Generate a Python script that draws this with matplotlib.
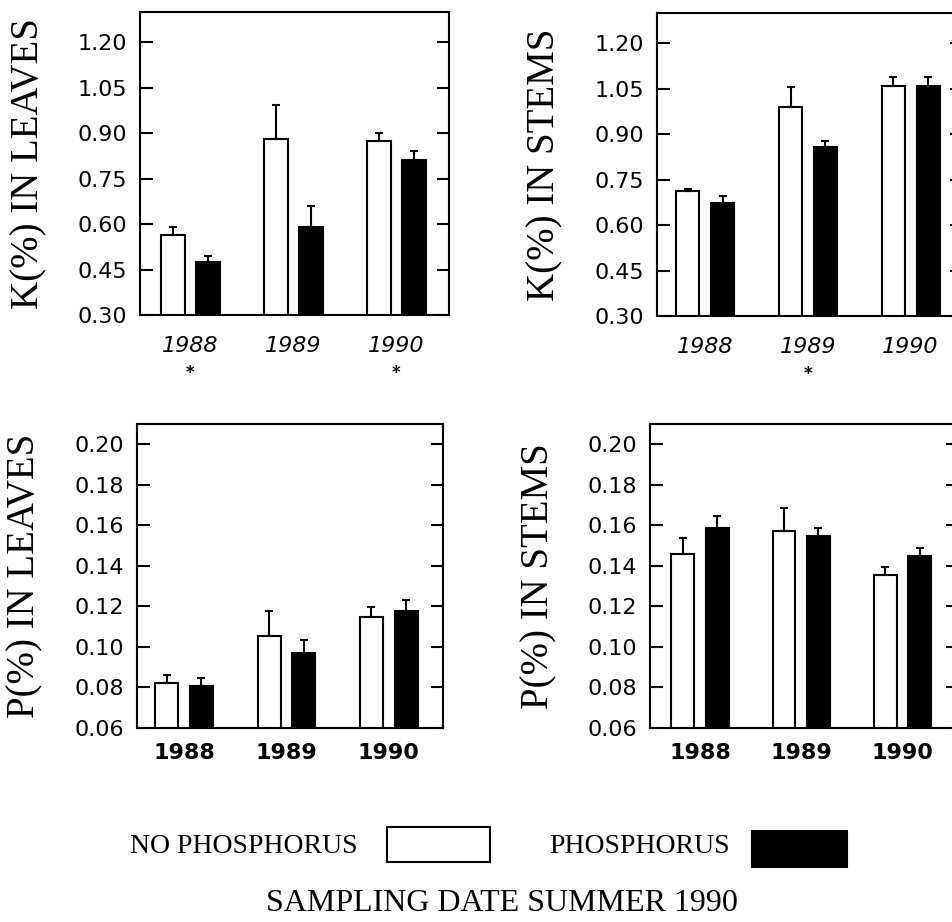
import matplotlib
matplotlib.use("Agg")
import matplotlib.pyplot as plt
from matplotlib.patches import Rectangle
import numpy as np

# ---------------- data ----------------
years = ["1988", "1989", "1990"]
series_names = ["NO PHOSPHORUS", "PHOSPHORUS"]

k_leaves_nop = [0.564, 0.880, 0.873]
k_leaves_nop_err = [0.028, 0.114, 0.029]
k_leaves_p = [0.474, 0.590, 0.812]
k_leaves_p_err = [0.021, 0.070, 0.028]

k_stems_nop = [0.713, 0.989, 1.058]
k_stems_nop_err = [0.007, 0.068, 0.032]
k_stems_p = [0.674, 0.857, 1.060]
k_stems_p_err = [0.021, 0.019, 0.030]

p_leaves_nop = [0.0820, 0.1056, 0.1150]
p_leaves_nop_err = [0.0042, 0.0121, 0.0046]
p_leaves_p = [0.0806, 0.0971, 0.1177]
p_leaves_p_err = [0.0041, 0.0061, 0.0057]

p_stems_nop = [0.1457, 0.1572, 0.1353]
p_stems_nop_err = [0.0082, 0.0115, 0.0041]
p_stems_p = [0.1588, 0.1547, 0.1448]
p_stems_p_err = [0.0058, 0.0041, 0.0042]

k_ticks = [0.30, 0.45, 0.60, 0.75, 0.90, 1.05, 1.20]
p_ticks = [0.06, 0.08, 0.10, 0.12, 0.14, 0.16, 0.18, 0.20]

# significance markers (index of year)
sig_k_leaves = [0, 2]
sig_k_stems = [1]

W, H = 953, 922
fig = plt.figure(figsize=(W / 100, H / 100), dpi=100)


def pos(x0, x1, ytop, ybot):
    return [x0 / W, 1 - ybot / H, (x1 - x0) / W, (ybot - ytop) / H]


panels = [
    dict(rect=pos(140, 449, 12, 315), xlim=(-0.49, 2.51), ylim=(0.30, 1.30),
         ticks=k_ticks, fmt="{:.2f}", a=k_leaves_nop, ae=k_leaves_nop_err,
         b=k_leaves_p, be=k_leaves_p_err, label="K(%) IN LEAVES", lx=29,
         italic=True, sig=sig_k_leaves),
    dict(rect=pos(657, 962, 13, 316), xlim=(-0.47, 2.50), ylim=(0.30, 1.30),
         ticks=k_ticks, fmt="{:.2f}", a=k_stems_nop, ae=k_stems_nop_err,
         b=k_stems_p, be=k_stems_p_err, label="K(%) IN STEMS", lx=545,
         italic=True, sig=sig_k_stems),
    dict(rect=pos(137, 443, 424, 728), xlim=(-0.46, 2.53), ylim=(0.06, 0.21),
         ticks=p_ticks, fmt="{:.2f}", a=p_leaves_nop, ae=p_leaves_nop_err,
         b=p_leaves_p, be=p_leaves_p_err, label="P(%) IN LEAVES", lx=25,
         italic=False, sig=[]),
    dict(rect=pos(650, 958, 424, 728), xlim=(-0.495, 2.55), ylim=(0.06, 0.21),
         ticks=p_ticks, fmt="{:.2f}", a=p_stems_nop, ae=p_stems_nop_err,
         b=p_stems_p, be=p_stems_p_err, label="P(%) IN STEMS", lx=539,
         italic=False, sig=[]),
]

bw = 0.225
off = 0.17
x = np.arange(len(years))

for p in panels:
    ax = fig.add_axes(p["rect"])
    ax.bar(x - off, p["a"], width=bw, color="white",
           edgecolor="black", linewidth=1.5, zorder=2)
    ax.bar(x + off, p["b"], width=bw, color="black",
           edgecolor="black", linewidth=1.5, zorder=2)
    ax.errorbar(x - off, p["a"], yerr=[np.zeros(3), p["ae"]], fmt="none",
                ecolor="black", elinewidth=1.5, capsize=3, capthick=1.5, zorder=3)
    ax.errorbar(x + off, p["b"], yerr=[np.zeros(3), p["be"]], fmt="none",
                ecolor="black", elinewidth=1.5, capsize=3, capthick=1.5, zorder=3)
    ax.set_xlim(*p["xlim"])
    ax.set_ylim(*p["ylim"])
    ax.set_yticks(p["ticks"])
    ax.set_yticklabels([p["fmt"].format(t) for t in p["ticks"]],
                       fontfamily="DejaVu Sans", fontsize=16)
    ax.set_xticks(x)
    if p["italic"]:
        ax.set_xticklabels(years, fontfamily="DejaVu Sans", fontsize=16,
                           fontstyle="italic")
        ax.tick_params(axis="x", length=0, pad=15)
    else:
        ax.set_xticklabels(years, fontfamily="DejaVu Sans", fontsize=16,
                           fontweight="bold")
        ax.tick_params(axis="x", length=0, pad=11)
    ax.tick_params(axis="y", direction="in", length=9, width=1.5,
                   left=True, right=True, pad=9)
    for s in ax.spines.values():
        s.set_linewidth(1.5)
    for i in p["sig"]:
        ax.text(i, -0.19, "*", transform=ax.get_xaxis_transform(),
                ha="center", va="center", fontsize=12, fontweight="bold",
                fontfamily="DejaVu Sans")
    r = p["rect"]
    fig.text(p["lx"] / W, r[1] + r[3] / 2, p["label"], rotation=90,
             ha="center", va="center", fontfamily="Liberation Serif",
             fontsize=28)

# ---------------- legend ----------------
leg_y = 1 - 846 / H
fig.text(244 / W, leg_y, series_names[0], ha="center", va="center",
         fontfamily="Liberation Serif", fontsize=20)
fig.add_artist(Rectangle((387 / W, 1 - 862 / H), 103 / W, 35 / H,
                         transform=fig.transFigure, facecolor="white",
                         edgecolor="black", linewidth=1.5))
fig.text(640 / W, leg_y, series_names[1], ha="center", va="center",
         fontfamily="Liberation Serif", fontsize=20)
fig.add_artist(Rectangle((752 / W, 1 - 867 / H), 95 / W, 36 / H,
                         transform=fig.transFigure, facecolor="black",
                         edgecolor="black", linewidth=1.5))
fig.text(502 / W, 1 - 903 / H, "SAMPLING DATE SUMMER 1990", ha="center",
         va="center", fontfamily="Liberation Serif", fontsize=23)

fig.savefig("out.png", dpi=100)
